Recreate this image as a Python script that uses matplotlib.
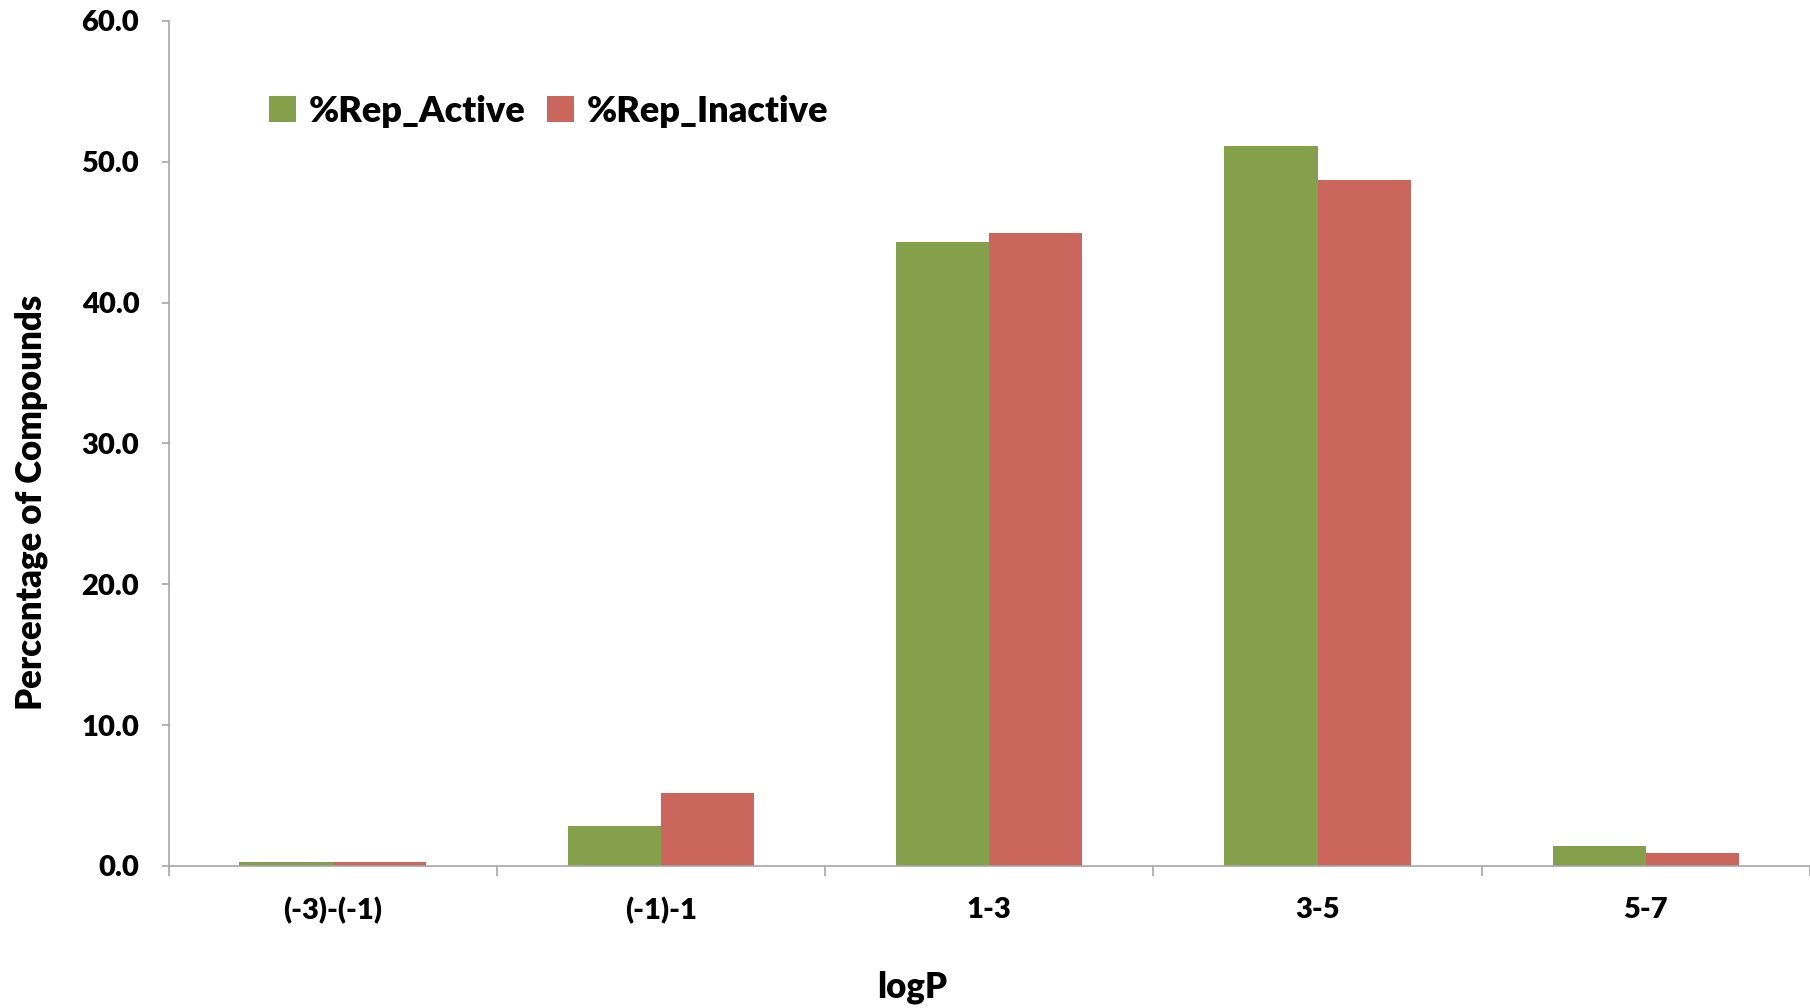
import matplotlib
matplotlib.use("Agg")
import matplotlib.pyplot as plt
import numpy as np

categories = ["(-3)-(-1)", "(-1)-1", "1-3", "3-5", "5-7"]
rep_active = [0.3, 2.85, 44.3, 51.1, 1.4]
rep_inactive = [0.3, 5.2, 44.9, 48.7, 0.9]
yticks = [0, 10, 20, 30, 40, 50, 60]

plt.rcParams['font.family'] = ['Lato', 'DejaVu Sans']
plt.rcParams['font.weight'] = 'heavy'

green = "#85A04B"
red = "#CB665C"
axcol = "#A6A6A6"

fig = plt.figure(figsize=(18.1, 10.08), dpi=100)
ax = fig.add_axes([0.0931, 0.1409, 0.9069, 0.8385])

x = np.arange(len(categories))
w = 0.284
ax.bar(x - w/2, rep_active, w, color=green, label="%Rep_Active")
ax.bar(x + w/2, rep_inactive, w, color=red, label="%Rep_Inactive")

ax.set_xlim(-0.5, 4.5)
ax.set_ylim(0, 60)
ax.set_yticks(yticks)
ax.set_yticklabels([f"{v:.1f}" for v in yticks], fontsize=21, fontweight='heavy')
ax.set_xticks(x)
ax.set_xticklabels(categories, fontsize=21, fontweight='heavy')
ax.set_xticks(np.arange(-0.5, 4.6, 1.0), minor=True)
ax.tick_params(axis='x', which='major', length=0, pad=22)
ax.tick_params(axis='x', which='minor', length=7, color=axcol, width=1.2)
ax.tick_params(axis='y', which='major', length=5, color=axcol, width=1.2, pad=16)

for s in ['top', 'right']:
    ax.spines[s].set_visible(False)
for s in ['left', 'bottom']:
    ax.spines[s].set_color(axcol)
    ax.spines[s].set_linewidth(1.2)

fig.text(31/1810, 1 - 502/1008, "Percentage of Compounds", rotation=90,
         ha='center', va='center', fontsize=25, fontweight='heavy')
fig.text(912/1810, 1 - 987/1008, "logP", ha='center', va='center',
         fontsize=25, fontweight='heavy')

leg = fig.legend(loc='center left', bbox_to_anchor=(269/1810, 1 - 111/1008),
                 ncol=2, frameon=False, handlelength=0.75,
                 prop={'size': 26, 'weight': 'heavy'},
                 handleheight=0.75, handletextpad=0.35, columnspacing=0.6,
                 borderaxespad=0, borderpad=0)

fig.savefig("out.png", dpi=100)
